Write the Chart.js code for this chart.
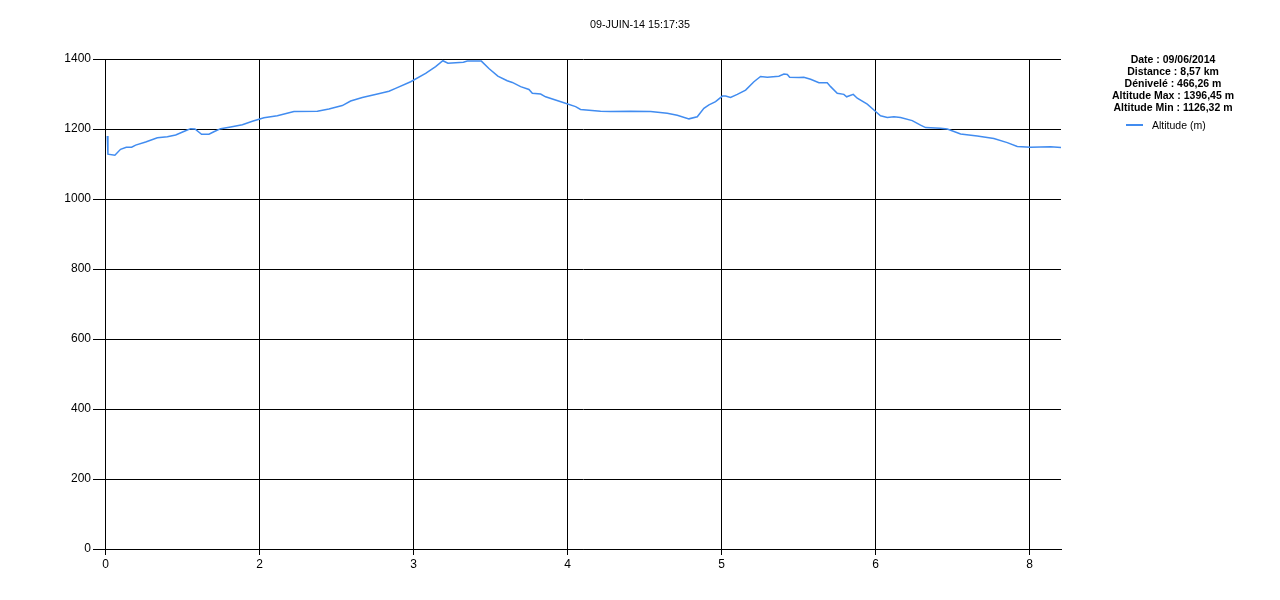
<!DOCTYPE html>
<html>
<head>
<meta charset="utf-8">
<script src="https://cdn.jsdelivr.net/npm/chart.js@4"></script>
<style>
  body { margin: 0; background: #fff; }
  #wrap { width: 1280px; height: 600px; }
</style>
</head>
<body>
<div id="wrap"><canvas id="profile" width="1280" height="600"></canvas></div>
<script>
const chartTitle = '09-JUIN-14 15:17:35';
const statsLines = [
    'Date : 09/06/2014',
    'Distance : 8,57 km',
    'Dénivelé : 466,26 m',
    'Altitude Max : 1396,45 m',
    'Altitude Min : 1126,32 m'
];
const seriesLabel = 'Altitude (m)';

// x positions of the grid lines and the labels printed under them
const xTickPos = [0, 1, 2, 3, 4, 5, 6];
const xTickLabels = ['0', '2', '3', '4', '5', '6', '8'];
const yTicks = [0, 200, 400, 600, 800, 1000, 1200, 1400];

// distance along the track (in grid units) and altitude in metres
const distance = [
    0.011, 0.015, 0.06, 0.097, 0.134, 0.169, 0.195, 0.26, 0.336, 0.401,
    0.455, 0.519, 0.552, 0.58, 0.623, 0.671, 0.703, 0.747, 0.812, 0.888,
    0.953, 1.028, 1.115, 1.223, 1.375, 1.45, 1.537, 1.591, 1.667, 1.786,
    1.84, 1.883, 1.981, 2.078, 2.143, 2.19, 2.223, 2.323, 2.349, 2.44,
    2.489, 2.547, 2.608, 2.641, 2.695, 2.749, 2.771, 2.825, 2.857, 2.976,
    3.052, 3.084, 3.214, 3.279, 3.409, 3.539, 3.647, 3.712, 3.788, 3.842,
    3.885, 3.918, 3.961, 4.005, 4.026, 4.058, 4.102, 4.156, 4.21, 4.253,
    4.297, 4.372, 4.405, 4.427, 4.442, 4.502, 4.534, 4.578, 4.632, 4.686,
    4.708, 4.751, 4.794, 4.812, 4.855, 4.881, 4.946, 5.0, 5.032, 5.076,
    5.119, 5.162, 5.238, 5.292, 5.325, 5.422, 5.466, 5.552, 5.66, 5.768,
    5.855, 5.92, 6.006, 6.136, 6.204
];
const altitude = [
    1180, 1128, 1125, 1142, 1148, 1148, 1154, 1163, 1175, 1178,
    1183, 1195, 1201, 1200, 1185, 1185, 1192, 1201, 1206, 1212,
    1222, 1232, 1238, 1250, 1251, 1257, 1267, 1280, 1290, 1302,
    1308, 1316, 1335, 1359, 1378, 1395, 1388, 1391, 1394, 1394,
    1373, 1351, 1338, 1333, 1321, 1313, 1302, 1300, 1292, 1275,
    1264, 1256, 1251, 1250, 1251, 1250, 1245, 1239, 1229, 1235,
    1259, 1269, 1278, 1294, 1294, 1290, 1299, 1311, 1335, 1350,
    1348, 1351, 1357, 1356, 1348, 1347, 1348, 1342, 1332, 1332,
    1321, 1302, 1299, 1292, 1299, 1288, 1271, 1250, 1238, 1233,
    1235, 1233, 1224, 1211, 1204, 1202, 1200, 1186, 1180, 1173,
    1161, 1150, 1148, 1149, 1147
];

const lineColor = 'rgb(65, 140, 240)';
const font = "'Liberation Sans', Arial, sans-serif";

// title and the stats / legend block on the right
const decorations = {
    id: 'decorations',
    afterDraw(chart) {
        const ctx = chart.ctx;
        ctx.save();
        ctx.fillStyle = '#000';
        ctx.textBaseline = 'middle';
        ctx.textAlign = 'center';
        ctx.font = '10.8px ' + font;
        ctx.fillText(chartTitle, 640, 25);

        ctx.font = 'bold 10.5px ' + font;
        statsLines.forEach((line, i) => {
            ctx.fillText(line, 1173, 60 + i * 12);
        });

        ctx.strokeStyle = lineColor;
        ctx.lineWidth = 2;
        ctx.beginPath();
        ctx.moveTo(1126, 125);
        ctx.lineTo(1143, 125);
        ctx.stroke();
        ctx.textAlign = 'left';
        ctx.font = '10.5px ' + font;
        ctx.fillText(seriesLabel, 1152, 126);
        ctx.restore();
    }
};

new Chart(document.getElementById('profile'), {
    type: 'line',
    data: {
        datasets: [{
            label: seriesLabel,
            data: distance.map((d, i) => ({ x: d, y: altitude[i] })),
            borderColor: lineColor,
            borderWidth: 1.5,
            pointRadius: 0,
            tension: 0,
            fill: false
        }]
    },
    options: {
        responsive: false,
        animation: false,
        devicePixelRatio: 1,
        layout: { padding: { top: 59, right: 219, bottom: 0, left: 0 } },
        plugins: {
            legend: { display: false },
            title: { display: false },
            tooltip: { enabled: false }
        },
        scales: {
            x: {
                type: 'linear',
                min: -0.004,
                max: 6.204,
                afterBuildTicks: scale => {
                    scale.ticks = xTickPos.map(v => ({ value: v }));
                },
                afterFit: scale => { scale.height = 51; },
                grid: { color: '#000', lineWidth: 1, tickLength: 6 },
                border: { color: '#000', width: 1 },
                ticks: {
                    color: '#000',
                    font: { family: font, size: 12 },
                    padding: 2,
                    maxRotation: 0,
                    autoSkip: false,
                    callback: (v, i) => xTickLabels[i]
                }
            },
            y: {
                min: 0,
                max: 1400,
                afterBuildTicks: scale => {
                    scale.ticks = yTicks.map(v => ({ value: v }));
                },
                afterFit: scale => { scale.width = 105; },
                grid: { color: '#000', lineWidth: 1, tickLength: 12 },
                border: { color: '#000', width: 1 },
                ticks: {
                    color: '#000',
                    font: { family: font, size: 12 },
                    padding: 2,
                    callback: v => String(v)
                }
            }
        }
    },
    plugins: [decorations]
});
</script>
</body>
</html>
